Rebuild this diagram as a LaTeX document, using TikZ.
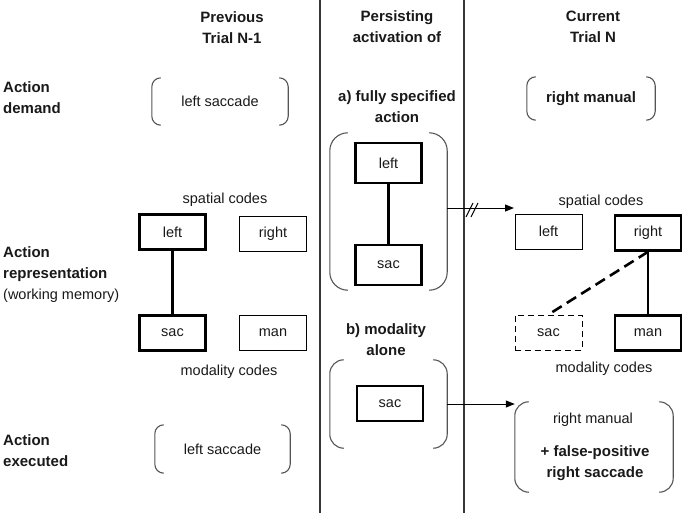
\documentclass[tikz,border=0pt]{standalone}
\usepackage{fontspec}
\setmainfont{Liberation Sans}
\usepackage{xcolor}
\definecolor{Ink}{RGB}{25,25,25}
\definecolor{RuleCol}{RGB}{55,55,55}
\definecolor{ParenCol}{RGB}{85,85,85}
\usetikzlibrary{arrows.meta}
\tikzstyle{Txt}=[inner sep=0pt,text=Ink,font=\fontsize{14.5}{21}\selectfont]
\tikzstyle{Bold}=[Txt,font=\fontsize{15}{21}\selectfont\bfseries]
\tikzstyle{Head}=[Bold,align=center]
\tikzstyle{RowHead}=[Bold,align=left,anchor=west]
\tikzstyle{Code}=[Txt,draw=black,line width=1pt,minimum width=67pt,
minimum height=35pt]
\tikzstyle{CodeOn}=[Code,line width=2.6pt,minimum width=66pt]
\tikzstyle{CodeOff}=[Code,dash pattern=on 6pt off 4pt]
\tikzstyle{Bracketed}=[Txt]
\tikzstyle{Paren}=[draw=ParenCol,line width=1.1pt]
\tikzstyle{Link}=[draw=black,line width=2.6pt]
\tikzstyle{Arrow}=[draw=black,line width=1pt,-{Triangle[length=9pt,width=7pt]}]
\tikzstyle{Rule}=[draw=RuleCol,line width=1.4pt]
\newcommand{\ParenPair}[2]{%
  \draw[Paren]([xshift=#2]#1.north west)arc[start angle=90,end angle=180,radius=#2]
    --([yshift=#2]#1.south west)arc[start angle=180,end angle=270,radius=#2];
  \draw[Paren]([xshift=-#2]#1.north east)arc[start angle=90,end angle=0,radius=#2]
    --([yshift=#2]#1.south east)arc[start angle=0,end angle=-90,radius=#2];}

\begin{document}
\begin{tikzpicture}[x=1pt,y=1pt]
            \useasboundingbox(0,0)rectangle(685,-515);
            % columns
            \draw[Rule](320,0)--(320,-513);
            \draw[Rule](464,0)--(464,-513);
            \node[Head](hp)at(232,-27.5){Previous\\Trial N-1};
            \node[Head](hc)at(397,-27){Persisting\\activation of};
            \node[Head](hn)at(593,-27){Current\\Trial N};
            \node[RowHead](rd)at(3,-97.5){Action\\demand};
            \node[RowHead](rw)at(3,-275){Action\\representation\\
                {\mdseries\fontsize{14.5}{21}\selectfont(working memory)}};
            \node[RowHead](re)at(3,-451){Action\\executed};
            % action demand
            \node[Bracketed,minimum width=136pt,minimum height=47pt](d1)
                at(220,-101.5){left saccade};
            \ParenPair{d1}{9pt}
            \node[Bracketed,font=\fontsize{15}{21}\selectfont\bfseries,
                minimum width=128pt,minimum height=43pt](d3)
                at(591,-98.5){right manual};
            \ParenPair{d3}{9pt}
            % previous trial codes
            \node[Txt](ls)at(225,-200){spatial codes};
            \node[CodeOn](ll)at(172.5,-232){left};
            \node[Code](lr)at(273,-233.5){right};
            \node[CodeOn](lsac)at(172.5,-333){sac};
            \node[Code](lman)at(273,-333){man};
            \node[Txt](lm)at(229,-372){modality codes};
            \draw[Link](ll)--(lsac);
            % persisting a)
            \node[Head](ha)at(397,-107){a) fully specified\\action};
            \node[Bracketed,minimum width=117pt,minimum height=157pt](pa)
                at(388.5,-211.5){};
            \ParenPair{pa}{18pt}
            \node[CodeOn,minimum height=40pt](al)at(388.5,-163){left};
            \node[CodeOn,minimum height=40pt](as)at(388.5,-265){sac};
            \draw[Link](al)--(as);
            \coordinate(ta)at(514,-208);
            \coordinate(brk)at(472,-208);
            \draw[Arrow](pa.east|-ta)--(ta);
            \draw[draw=black,line width=1pt]([shift={(-6pt,-9pt)}]brk)--++(7pt,14pt)
                ([shift={(-1pt,-9pt)}]brk)--++(7pt,14pt);
            % current trial codes
            \node[Txt](rs)at(601,-202){spatial codes};
            \node[Code](rl)at(548.5,-231.5){left};
            \node[CodeOn](rri)at(648,-233){right};
            \node[CodeOff](rsac)at(548.5,-332.5){sac};
            \node[CodeOn](rman)at(648,-333){man};
            \node[Txt](rm)at(604,-369){modality codes};
            \draw[Link](rri)--(rman);
            \draw[Link,dash pattern=on 11pt off 6pt](rri.south)--(rsac.north);
            % persisting b)
            \node[Head](hb)at(386,-340){b) modality\\alone};
            \node[Bracketed,minimum width=117pt,minimum height=88pt](pb)
                at(388.5,-404){};
            \ParenPair{pb}{14pt}
            \node[CodeOn](bs)at(390,-403.5){sac};
            % action executed
            \node[Bracketed,minimum width=135pt,minimum height=48pt](x1)
                at(222.5,-449){left saccade};
            \ParenPair{x1}{9pt}
            \node[Bracketed,minimum width=158pt,minimum height=90pt](px)
                at(594,-447){};
            \ParenPair{px}{14pt}
            \node[Txt](xa)at(593,-420){right manual};
            \node[Head](xb)at(595,-463){+ false-positive\\right saccade};
            \draw[Arrow](pb.east)--(px.west|-pb.east);
        \end{tikzpicture}
\end{document}
